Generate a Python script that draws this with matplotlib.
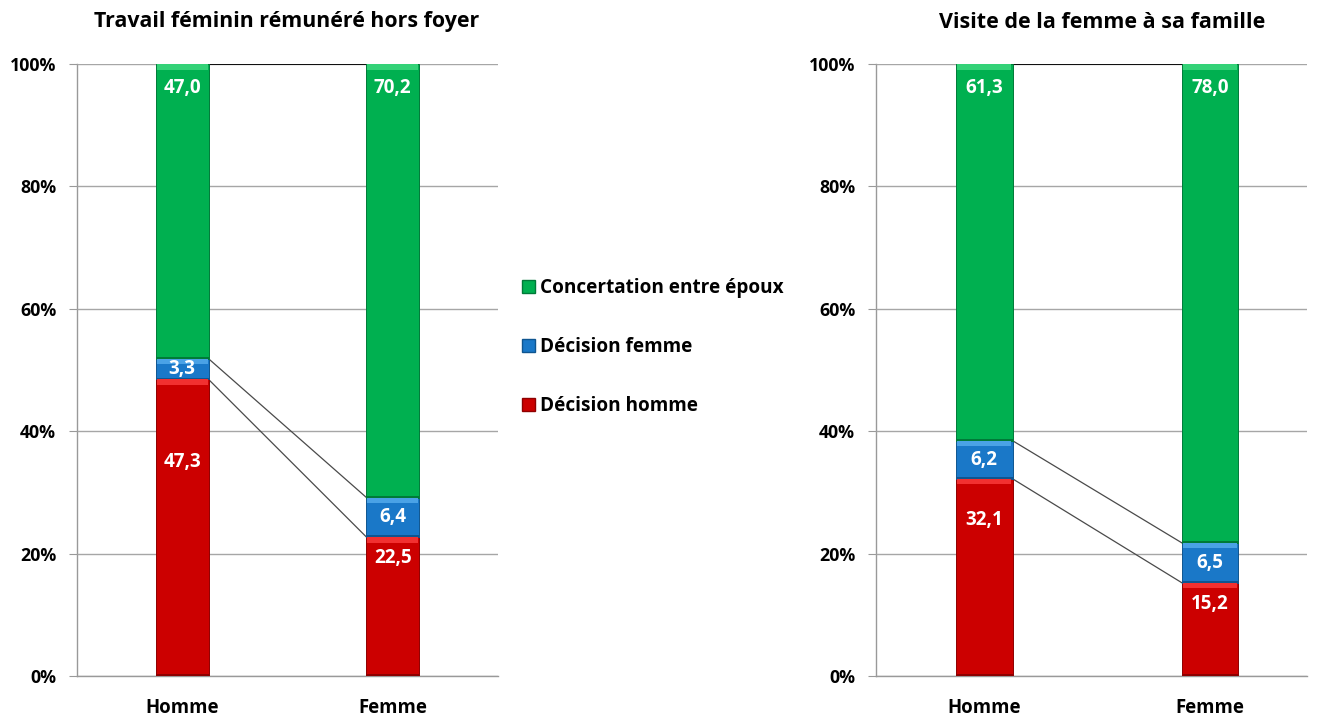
import numpy as np
import matplotlib
matplotlib.use('Agg')
import matplotlib.pyplot as plt
from matplotlib.patches import Patch

plt.rcParams['font.family'] = ['Open Sans', 'DejaVu Sans']
plt.rcParams['font.weight'] = 'bold'

# data
categories = ['Homme', 'Femme']
series_names = ['Décision homme', 'Décision femme', 'Concertation entre époux']

travail_homme = [47.3, 22.5]
travail_femme = [3.3, 6.4]
travail_concert = [47.0, 70.2]

visite_homme = [32.1, 15.2]
visite_femme = [6.2, 6.5]
visite_concert = [61.3, 78.0]

titles = ['Travail féminin rémunéré hors foyer', 'Visite de la femme à sa famille']

# where the red labels sit (in % of the axis)
red_label_pos = [[35.0, 19.3], [25.5, 11.8]]

colors = ['#CC0000', '#1A78C8', '#00B050']
light = ['#F23030', '#4AA2E6', '#33D277']
dark = ['#8E0000', '#0F5590', '#007A38']

W, H = 1324, 720
fig = plt.figure(figsize=(W / 100, H / 100), dpi=100)
ax1 = fig.add_axes([77 / W, 1 - 676 / H, (498 - 77) / W, (676 - 64) / H])
ax2 = fig.add_axes([876 / W, 1 - 676 / H, (1307 - 876) / W, (676 - 64) / H])

panels = [
    (ax1, [travail_homme, travail_femme, travail_concert], (-0.5, 1.5)),
    (ax2, [visite_homme, visite_femme, visite_concert], (-0.48, 1.43)),
]

bw = 0.25
x = np.arange(len(categories))

for k, (ax, series, xl) in enumerate(panels):
    vals = np.array(series, dtype=float)
    pct = vals / vals.sum(axis=0) * 100
    bottoms = np.zeros(len(categories))
    tops = []
    for i in range(3):
        ax.bar(x, pct[i], bw, bottom=bottoms, color=colors[i],
               edgecolor=dark[i], linewidth=0.7, zorder=3)
        # bevel highlight on top of each segment
        hl = np.minimum(0.9, pct[i] * 0.3)
        ax.bar(x, hl, bw * 0.96, bottom=bottoms + pct[i] - hl, color=light[i],
               linewidth=0, zorder=4)
        ax.bar(x, 0.3, bw, bottom=bottoms, color=dark[i], linewidth=0, zorder=4)
        bottoms = bottoms + pct[i]
        tops.append(bottoms.copy())

    # series lines between the bars
    for i in range(3):
        lc = 'black' if i == 2 else '#4a4a4a'
        lw = 1.3 if i == 2 else 0.9
        ax.plot([x[0] + bw / 2, x[1] - bw / 2], [tops[i][0], tops[i][1]],
                color=lc, lw=lw, zorder=2)

    # data labels
    lab = lambda v: f'{v:.1f}'.replace('.', ',')
    for j in range(len(categories)):
        ax.text(x[j], red_label_pos[k][j], lab(vals[0][j]), ha='center', va='center',
                color='white', fontsize=13.5, fontweight='bold', zorder=5)
        ax.text(x[j], tops[0][j] + pct[1][j] / 2, lab(vals[1][j]), ha='center',
                va='center', color='white', fontsize=13.5, fontweight='bold', zorder=5)
        ax.text(x[j], 96.1, lab(vals[2][j]), ha='center', va='center',
                color='white', fontsize=13.5, fontweight='bold', zorder=5)

    ax.set_xlim(*xl)
    ax.set_ylim(0, 100)
    ax.set_yticks(np.arange(0, 101, 20))
    ax.set_yticklabels([f'{v}%' for v in range(0, 101, 20)], fontsize=12.8,
                       fontweight='bold')
    ax.set_xticks(x)
    ax.set_xticklabels(categories, fontsize=13.4, fontweight='bold')
    ax.tick_params(axis='x', length=0, pad=16)
    ax.tick_params(axis='y', length=6, color='#999999', pad=9)
    ax.grid(axis='y', color='#A6A6A6', lw=1, zorder=0)
    for s in ['top', 'right']:
        ax.spines[s].set_visible(False)
    for s in ['left', 'bottom']:
        ax.spines[s].set_color('#999999')
        ax.spines[s].set_linewidth(1)
        ax.spines[s].set_zorder(1)

fig.text(287 / W, 1 - 22 / H, titles[0], ha='center', va='center',
         fontsize=15.4, fontweight='bold')
fig.text(1102 / W, 1 - 22 / H, titles[1], ha='center', va='center',
         fontsize=15.5, fontweight='bold')

handles = [Patch(facecolor=colors[i], edgecolor=dark[i], label=series_names[i])
           for i in [2, 1, 0]]
fig.legend(handles=handles, loc='center left', bbox_to_anchor=(505 / W, 1 - 347 / H),
           frameon=False, handlelength=0.7, handleheight=0.7,
           handletextpad=0.25, labelspacing=2.05, prop={'weight': 'bold', 'size': 13.7})

fig.savefig('out.png', dpi=100)
